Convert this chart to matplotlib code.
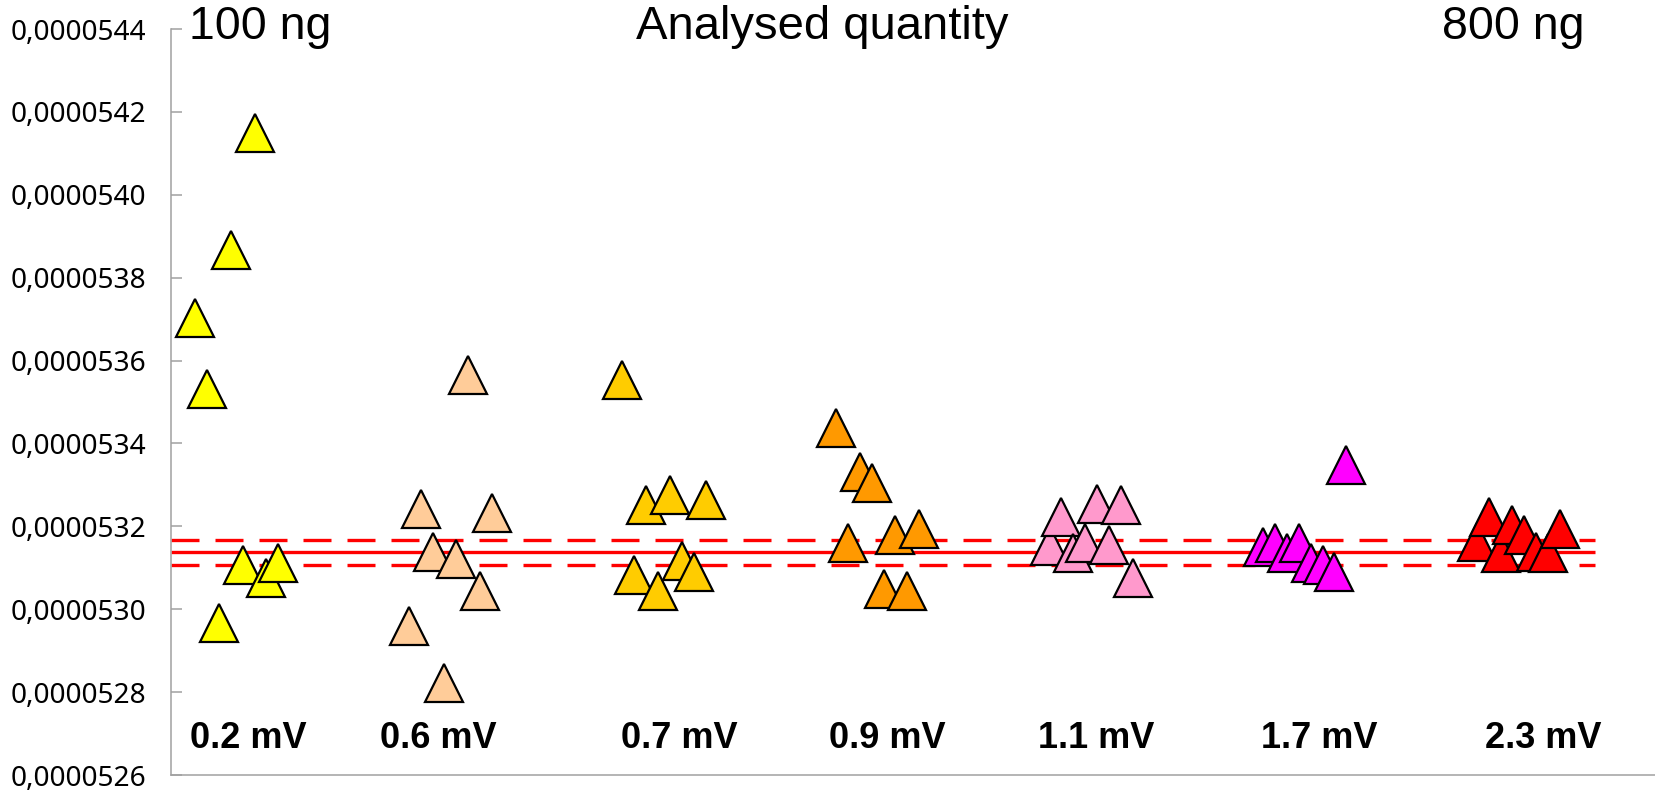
import numpy as np
import matplotlib
matplotlib.use("Agg")
import matplotlib.pyplot as plt
from matplotlib.ticker import FixedLocator, FuncFormatter

# ---------------- data ----------------
group_labels = ["0.2 mV", "0.6 mV", "0.7 mV", "0.9 mV", "1.1 mV", "1.7 mV", "2.3 mV"]
group_colors = ["#FFFF00", "#FFCC99", "#FFCC00", "#FF9900", "#FF99CC", "#FF00FF", "#FF0000"]

vals_02 = [5.37030e-5, 5.35310e-5, 5.29660e-5, 5.38670e-5, 5.31060e-5, 5.41500e-5, 5.30760e-5, 5.31110e-5]
vals_06 = [5.29600e-5, 5.32410e-5, 5.31380e-5, 5.28220e-5, 5.31210e-5, 5.35640e-5, 5.30430e-5, 5.32310e-5]
vals_07 = [5.35540e-5, 5.30820e-5, 5.32510e-5, 5.30450e-5, 5.32750e-5, 5.31160e-5, 5.30910e-5, 5.32640e-5]
vals_09 = [5.34380e-5, 5.31590e-5, 5.33320e-5, 5.33040e-5, 5.30490e-5, 5.31790e-5, 5.30440e-5, 5.31930e-5]
vals_11 = [5.31530e-5, 5.32220e-5, 5.31350e-5, 5.31600e-5, 5.32550e-5, 5.31550e-5, 5.32510e-5, 5.30760e-5]
vals_17 = [5.31510e-5, 5.31600e-5, 5.31360e-5, 5.31600e-5, 5.31110e-5, 5.31060e-5, 5.30900e-5, 5.33470e-5]
vals_23 = [5.31630e-5, 5.32220e-5, 5.31350e-5, 5.32030e-5, 5.31790e-5, 5.31390e-5, 5.31350e-5, 5.31930e-5]
all_vals = [vals_02, vals_06, vals_07, vals_09, vals_11, vals_17, vals_23]

mean_value = 5.31370e-5
upper_limit = 5.31670e-5
lower_limit = 5.31060e-5

top_left_text = "100 ng"
top_mid_text = "Analysed quantity"
top_right_text = "800 ng"

y_ticks = [5.26e-5, 5.28e-5, 5.30e-5, 5.32e-5, 5.34e-5, 5.36e-5, 5.38e-5, 5.40e-5, 5.42e-5, 5.44e-5]

# ---------------- layout ----------------
W, H = 1656, 793
GROUP_PERIOD = 18
FIRST_INDEX = 1
label_x = [5.44, 21.5, 41.8, 59.3, 76.9, 95.7, 114.6]
line_end = 119.0

fig = plt.figure(figsize=(W / 100, H / 100), dpi=100)
ax_left, ax_right, ax_top, ax_bot = 171.4, 1656, 29, 775
ax = fig.add_axes([ax_left / W, (H - ax_bot) / H, (ax_right - ax_left) / W, (ax_bot - ax_top) / H])
ax.set_xlim(-1.01, 124.1)
ax.set_ylim(5.26e-5, 5.44e-5)

# reference lines
ax.plot([-1.01, line_end], [mean_value, mean_value], color="#FF0000", lw=2.4, solid_capstyle="butt", zorder=2)
for lim in (upper_limit, lower_limit):
    ax.plot([-1.01, line_end], [lim, lim], color="#FF0000", lw=2.4,
            dashes=(8.4, 4.8), dash_capstyle="butt", zorder=2)

# points
for g, (vals, col) in enumerate(zip(all_vals, group_colors)):
    xs = FIRST_INDEX + GROUP_PERIOD * g + np.arange(len(vals))
    for x, v in zip(xs, vals):
        ax.plot([x], [v], linestyle="none", marker="^", markersize=27.5,
                markerfacecolor=col, markeredgecolor="black", markeredgewidth=1.6, zorder=3)

# axes styling
for s in ("top", "right"):
    ax.spines[s].set_visible(False)
for s in ("left", "bottom"):
    ax.spines[s].set_color("#A0A0A0")
    ax.spines[s].set_linewidth(1.1)
ax.set_xticks([])
ax.yaxis.set_major_locator(FixedLocator(y_ticks))
ax.yaxis.set_major_formatter(FuncFormatter(lambda v, p: f"{v:.7f}".replace(".", ",")))
ax.tick_params(axis="y", direction="in", length=8, width=1.1, color="#A0A0A0", pad=18,
               labelsize=20.2, labelcolor="black")
for lab in ax.get_yticklabels():
    lab.set_family("Noto Sans")

# group labels at bottom
base_y = (ax_bot - 748.3) / (ax_bot - ax_top)
for lx, txt in zip(label_x, group_labels):
    ax.text(lx, base_y, txt, transform=ax.get_xaxis_transform(), ha="center", va="baseline",
            fontsize=26, fontweight="bold", family="Liberation Sans", color="black")

# top texts
fig.text(189 / W, 1 - 39.3 / H, top_left_text, ha="left", va="baseline", fontsize=33.5,
         family="Liberation Sans", color="black")
fig.text(636.0 / W, 1 - 38.6 / H, top_mid_text, ha="left", va="baseline", fontsize=34,
         family="Liberation Sans", color="black")
fig.text(1442 / W, 1 - 39.3 / H, top_right_text, ha="left", va="baseline", fontsize=33.5,
         family="Liberation Sans", color="black")

fig.savefig("out.png", dpi=100, facecolor="white")
